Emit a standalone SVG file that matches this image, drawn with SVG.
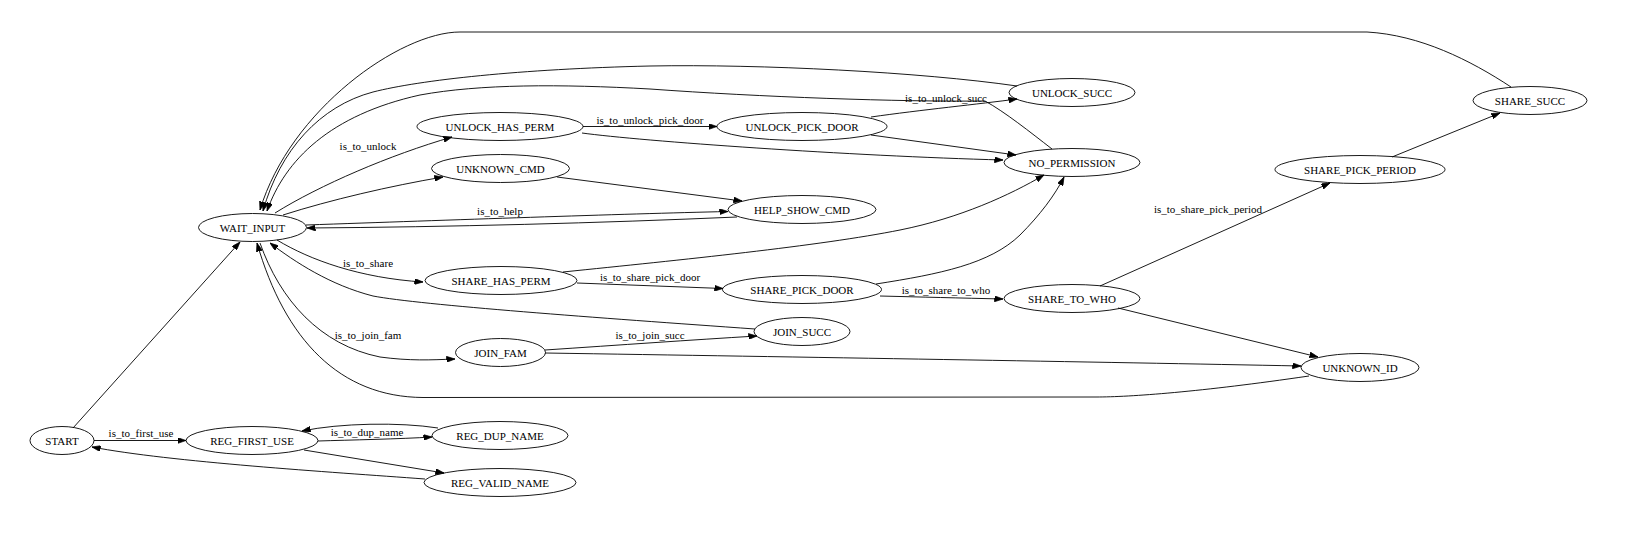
<svg xmlns="http://www.w3.org/2000/svg" width="1640" height="534" viewBox="0 0 1640 534">
<style>
.n ellipse{fill:none;stroke:#000;stroke-width:0.9}
text{font-family:"Liberation Serif","Times New Roman",serif;font-size:11px;fill:#000;text-anchor:middle}
.e path{fill:none;stroke:#000;stroke-width:0.9;marker-end:url(#ah)}
.e path.na{marker-end:none}
</style>
<defs>
<marker id="ah" viewBox="0 0 10 7" refX="10" refY="3.5" markerWidth="8.5" markerHeight="6" markerUnits="userSpaceOnUse" orient="auto">
<path d="M0,0 L10,3.5 L0,7 z" fill="#000" stroke="#000" stroke-width="0.8"/>
</marker>
</defs>
<rect width="1640" height="534" fill="#fff"/>
<g id="edges" class="e">
<path d="M73,428 L240,242"/>
<path d="M94,440.5 L186,440.5"/>
<path d="M318,441 C350,440 400,439 432,437"/>
<path d="M438,428 C400,422 340,423 302,431"/>
<path d="M304,450 L444,473"/>
<path d="M425,479 C330,472 170,462 92,447"/>
<path d="M275,213 C320,185 390,155 452,137"/>
<path d="M283,215 C330,200 390,186 443,177"/>
<path d="M306,225 C450,220 620,214 728,211.5"/>
<path d="M737,217 C600,223 450,227 307,228"/>
<path d="M557,177 L742,201"/>
<path d="M277,240 C310,260 360,278 423,282"/>
<path d="M755,329 C600,318 420,305 373,296 C330,285 295,262 270,243"/>
<path d="M260,243 C280,300 320,345 380,357 C410,361 430,360 455,359"/>
<path d="M1309,376 C1200,392 1130,397 1096,397 L423,397.5 C340,397 285,340 257,243"/>
<path d="M1017,86 C920,72 760,64 650,66 C520,69 420,80 373,92 C320,106 280,150 263,211"/>
<path d="M1052,149 C1030,132 1005,112 985,101 C900,102 760,97 650,89 C560,84 480,84 420,95 C330,115 285,160 267,211"/>
<path d="M1511,87 C1470,60 1420,35 1367,32 L460,32 C400,32 290,110 260,210"/>
<path d="M583,126.5 L717,126.5"/>
<path d="M582,133 C640,141 850,156 1003,160"/>
<path d="M871,117 C920,110 980,104 1017,99"/>
<path d="M871,135 L1016,155"/>
<path d="M563,272 C680,260 820,246 900,230 C960,218 1010,195 1044,175"/>
<path d="M577,283 L723,288.5"/>
<path d="M876,284 C940,274 990,264 1020,235 C1040,215 1055,195 1064,177"/>
<path d="M880,296 C920,297 960,298 1003,299"/>
<path d="M1100,286 L1330,183"/>
<path d="M1118,308 L1318,357"/>
<path d="M1392,157 L1500,113"/>
<path d="M545,350 C620,345 690,340 757,336"/>
<path d="M545,353 C800,357 1100,362 1301,366"/>
<text x="141" y="437">is_to_first_use</text>
<text x="367" y="435.5">is_to_dup_name</text>
<text x="368" y="150">is_to_unlock</text>
<text x="500" y="214.5">is_to_help</text>
<text x="368" y="266.5">is_to_share</text>
<text x="368" y="338.5">is_to_join_fam</text>
<text x="650" y="124">is_to_unlock_pick_door</text>
<text x="650" y="281">is_to_share_pick_door</text>
<text x="650" y="338.5">is_to_join_succ</text>
<text x="946" y="101.5">is_to_unlock_succ</text>
<text x="946" y="294">is_to_share_to_who</text>
<text x="1208" y="213">is_to_share_pick_period</text>
</g>
<g id="START" class="n"><ellipse cx="62" cy="440.5" rx="32" ry="14"/><text x="62" y="444.5">START</text></g>
<g id="REG_FIRST_USE" class="n"><ellipse cx="252" cy="440.5" rx="66" ry="14"/><text x="252" y="444.5">REG_FIRST_USE</text></g>
<g id="REG_DUP_NAME" class="n"><ellipse cx="500" cy="435.5" rx="68" ry="14"/><text x="500" y="439.5">REG_DUP_NAME</text></g>
<g id="REG_VALID_NAME" class="n"><ellipse cx="500" cy="482.5" rx="76" ry="14"/><text x="500" y="486.5">REG_VALID_NAME</text></g>
<g id="WAIT_INPUT" class="n"><ellipse cx="252.5" cy="227.5" rx="54" ry="14"/><text x="252.5" y="231.5">WAIT_INPUT</text></g>
<g id="UNLOCK_HAS_PERM" class="n"><ellipse cx="500" cy="126.5" rx="83" ry="14"/><text x="500" y="130.5">UNLOCK_HAS_PERM</text></g>
<g id="UNKNOWN_CMD" class="n"><ellipse cx="500.5" cy="168.5" rx="69" ry="14"/><text x="500.5" y="172.5">UNKNOWN_CMD</text></g>
<g id="SHARE_HAS_PERM" class="n"><ellipse cx="501" cy="280.5" rx="76" ry="14"/><text x="501" y="284.5">SHARE_HAS_PERM</text></g>
<g id="JOIN_FAM" class="n"><ellipse cx="500.5" cy="352.5" rx="45" ry="14"/><text x="500.5" y="356.5">JOIN_FAM</text></g>
<g id="UNLOCK_PICK_DOOR" class="n"><ellipse cx="802" cy="126.5" rx="85" ry="14"/><text x="802" y="130.5">UNLOCK_PICK_DOOR</text></g>
<g id="HELP_SHOW_CMD" class="n"><ellipse cx="802" cy="209.5" rx="74" ry="14"/><text x="802" y="213.5">HELP_SHOW_CMD</text></g>
<g id="SHARE_PICK_DOOR" class="n"><ellipse cx="802" cy="289.5" rx="79.5" ry="14"/><text x="802" y="293.5">SHARE_PICK_DOOR</text></g>
<g id="JOIN_SUCC" class="n"><ellipse cx="802" cy="331.5" rx="48" ry="14"/><text x="802" y="335.5">JOIN_SUCC</text></g>
<g id="UNLOCK_SUCC" class="n"><ellipse cx="1072" cy="92.5" rx="63" ry="14"/><text x="1072" y="96.5">UNLOCK_SUCC</text></g>
<g id="NO_PERMISSION" class="n"><ellipse cx="1072" cy="162.5" rx="68" ry="14"/><text x="1072" y="166.5">NO_PERMISSION</text></g>
<g id="SHARE_TO_WHO" class="n"><ellipse cx="1072" cy="298.5" rx="68" ry="14"/><text x="1072" y="302.5">SHARE_TO_WHO</text></g>
<g id="SHARE_PICK_PERIOD" class="n"><ellipse cx="1360" cy="169.5" rx="85" ry="14"/><text x="1360" y="173.5">SHARE_PICK_PERIOD</text></g>
<g id="UNKNOWN_ID" class="n"><ellipse cx="1360" cy="367.5" rx="59" ry="14"/><text x="1360" y="371.5">UNKNOWN_ID</text></g>
<g id="SHARE_SUCC" class="n"><ellipse cx="1530" cy="100.5" rx="57" ry="14"/><text x="1530" y="104.5">SHARE_SUCC</text></g>
</svg>
